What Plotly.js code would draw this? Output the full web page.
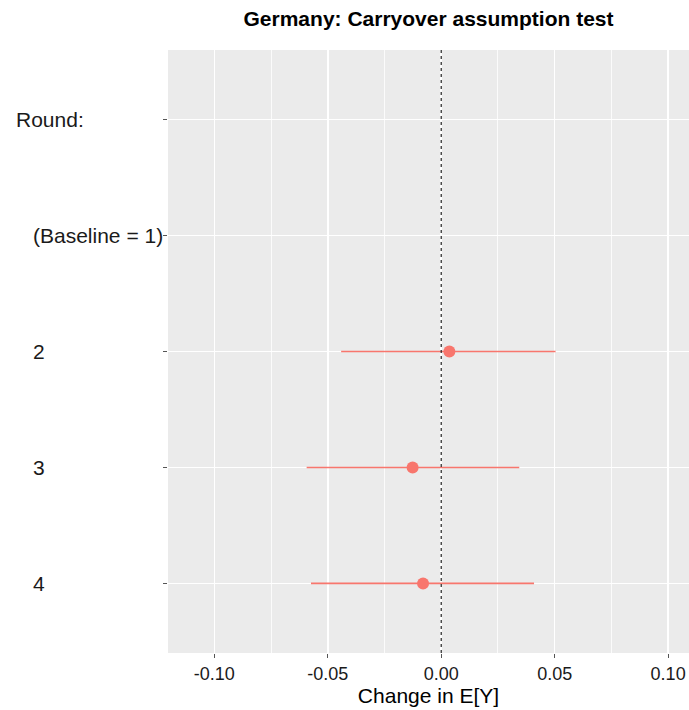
<!DOCTYPE html>
<html>
<head>
<meta charset="utf-8">
<script src="https://cdn.plot.ly/plotly-3.0.1.min.js"></script>
<style>html,body{margin:0;padding:0;background:#fff;}#chart{width:689px;height:710px;}</style>
</head>
<body>
<div id="chart"></div>
<script>
// Data
const yLevels = ["Round:", "(Baseline = 1)", "2", "3", "4"];
const labelStartPx = [14, 31, 31, 31, 31];
const estLevels = ["2", "3", "4"];
const estimates = [0.0036, -0.0126, -0.0080];
const lower = [-0.0441, -0.0593, -0.0574];
const upper = [0.0504, 0.0344, 0.0409];
const xTickVals = [-0.10, -0.05, 0.00, 0.05, 0.10];
const xTickText = ["-0.10", "-0.05", "0.00", "0.05", "0.10"];

const W = 689, H = 710;
const margin = {l: 168, r: 0, t: 50, b: 57};
const plotW = W - margin.l - margin.r;
const pink = "#F8766D";
const fontFam = "'Liberation Sans', Arial, sans-serif";

const trace = {
  type: "scatter",
  mode: "markers",
  x: estimates,
  y: estLevels,
  marker: {color: pink, size: 12, line: {width: 0}},
  error_x: {
    type: "data",
    symmetric: false,
    array: upper.map((u, i) => u - estimates[i]),
    arrayminus: lower.map((l, i) => estimates[i] - l),
    color: pink,
    thickness: 1.6,
    width: 0
  },
  hoverinfo: "x+y",
  showlegend: false
};

const annotations = yLevels.map((lab, i) => ({
  xref: "paper", yref: "y",
  x: (labelStartPx[i] - margin.l) / plotW,
  y: lab,
  xanchor: "left", yanchor: "middle",
  text: lab,
  showarrow: false,
  font: {family: fontFam, size: 21, color: "#1a1a1a"}
}));

const layout = {
  width: W, height: H,
  margin: margin,
  paper_bgcolor: "#ffffff",
  plot_bgcolor: "#EBEBEB",
  showlegend: false,
  title: {
    text: "<b>Germany: Carryover assumption test</b>",
    font: {family: fontFam, size: 21, color: "#000000"},
    xref: "paper", x: 0.5, xanchor: "center",
    yref: "container", y: 1 - 19 / H, yanchor: "middle"
  },
  xaxis: {
    range: [-0.1204, 0.1092],
    tickvals: xTickVals,
    ticktext: xTickText,
    ticks: "outside", ticklen: 4, tickcolor: "#555555", tickwidth: 1,
    showgrid: true, gridcolor: "#ffffff", gridwidth: 1.5,
    minor: {dtick: 0.025, tick0: 0, showgrid: true, gridcolor: "#ffffff", gridwidth: 0.8, ticks: ""},
    zeroline: false, showline: false,
    tickfont: {family: fontFam, size: 18, color: "#1a1a1a"},
    title: {text: "Change in E[Y]", font: {family: fontFam, size: 21, color: "#000000"}, standoff: 2},
    fixedrange: true
  },
  yaxis: {
    type: "category",
    categoryorder: "array",
    categoryarray: yLevels,
    range: [4.6, -0.6],
    showticklabels: false,
    ticks: "outside", ticklen: 4, tickcolor: "#555555", tickwidth: 1,
    showgrid: true, gridcolor: "#ffffff", gridwidth: 1.5,
    zeroline: false, showline: false,
    fixedrange: true
  },
  shapes: [{
    type: "line", xref: "x", yref: "paper",
    x0: 0, x1: 0, y0: 0, y1: 1,
    line: {color: "#222222", width: 1.2, dash: "dot"},
    layer: "above"
  }],
  annotations: annotations
};

Plotly.newPlot("chart", [trace], layout, {displayModeBar: false, staticPlot: true});
</script>
</body>
</html>
